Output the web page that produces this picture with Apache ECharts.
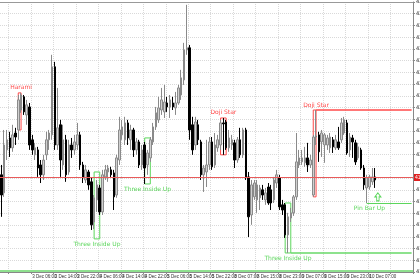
<!DOCTYPE html>
<html><head><meta charset="utf-8">
<script src="https://cdn.jsdelivr.net/npm/echarts@6/dist/echarts.min.js"></script>
<style>html,body{margin:0;padding:0;background:#fff}#c{width:420px;height:280px}</style>
</head><body><div id="c"></div>
<script>
const opens=[4191.4,4183.7,4202.0,4207.1,4202.9,4209.2,4210.5,4219.0,4224.6,4216.9,4220.3,4206.3,4199.9,4202.0,4195.6,4191.4,4199.9,4206.3,4208.4,4237.4,4204.1,4212.7,4195.6,4206.3,4192.6,4204.1,4202.0,4204.1,4208.4,4195.6,4189.2,4192.6,4188.4,4171.3,4180.7,4185.8,4175.6,4190.5,4192.6,4193.5,4192.2,4182.8,4197.7,4208.4,4206.3,4213.5,4206.3,4210.5,4202.0,4205.4,4195.6,4204.1,4195.6,4198.6,4205.4,4211.8,4214.8,4219.0,4218.2,4222.0,4220.3,4222.0,4219.9,4222.0,4225.4,4231.8,4244.6,4245.5,4212.7,4204.1,4212.7,4205.4,4191.4,4192.6,4195.6,4205.4,4195.6,4202.9,4204.1,4213.5,4213.9,4202.9,4204.1,4205.0,4197.7,4206.3,4199.9,4210.5,4190.5,4174.3,4182.0,4180.7,4181.6,4185.0,4180.7,4186.2,4185.0,4180.7,4187.9,4190.1,4178.6,4178.6,4165.8,4173.0,4175.2,4182.0,4195.6,4196.9,4196.5,4198.6,4195.6,4182.8,4207.5,4208.4,4205.4,4204.1,4204.1,4202.9,4206.3,4202.9,4205.4,4206.3,4209.2,4213.5,4202.0,4207.1,4205.0,4198.6,4202.0,4194.3,4185.8,4186.2,4188.4,4190.5];
const closes=[4182.8,4204.1,4206.3,4202.9,4208.4,4207.5,4223.3,4225.4,4218.2,4221.2,4204.1,4202.0,4202.9,4194.3,4191.4,4197.7,4206.3,4209.2,4237.4,4204.1,4211.4,4197.7,4206.3,4191.4,4204.1,4202.0,4205.4,4208.4,4195.6,4190.1,4193.5,4187.1,4170.1,4181.6,4187.1,4175.6,4191.4,4193.5,4194.3,4191.4,4182.0,4198.6,4210.5,4211.8,4213.5,4207.1,4210.5,4202.0,4205.4,4195.6,4202.0,4194.3,4200.7,4206.3,4211.8,4217.8,4219.9,4223.3,4222.4,4220.3,4223.3,4220.3,4222.0,4228.4,4232.7,4244.6,4245.5,4210.5,4202.0,4213.9,4206.3,4191.4,4194.3,4195.6,4205.4,4194.8,4204.1,4206.3,4213.5,4213.1,4202.9,4207.1,4206.3,4197.7,4206.3,4199.9,4210.5,4190.5,4173.5,4187.1,4187.9,4187.1,4185.8,4182.8,4183.7,4179.4,4179.4,4189.2,4191.4,4177.7,4176.4,4165.8,4173.5,4175.2,4182.0,4196.9,4198.6,4198.6,4198.6,4195.6,4197.7,4207.5,4207.9,4201.2,4209.2,4208.4,4207.1,4207.5,4203.3,4206.3,4202.9,4213.5,4214.8,4200.7,4207.5,4205.4,4196.9,4203.3,4194.3,4187.1,4190.1,4190.5,4190.5,4189.2];
const lows=[4173.5,4182.0,4197.7,4199.0,4201.2,4204.1,4206.3,4217.8,4216.9,4212.7,4202.0,4199.9,4197.7,4190.5,4187.9,4189.2,4197.7,4202.0,4206.3,4202.0,4202.0,4190.5,4193.5,4188.4,4191.4,4198.6,4199.9,4202.0,4193.5,4187.9,4187.9,4185.0,4167.9,4168.3,4175.6,4174.3,4174.3,4189.2,4188.4,4190.1,4176.4,4181.6,4195.6,4206.3,4204.1,4204.1,4202.0,4199.0,4199.9,4194.3,4193.5,4187.5,4191.4,4196.9,4204.1,4210.5,4213.5,4216.9,4215.6,4218.2,4215.6,4219.0,4216.9,4221.2,4223.3,4229.7,4242.5,4206.3,4199.9,4202.0,4204.1,4189.2,4184.1,4186.2,4193.5,4193.5,4194.3,4201.2,4202.0,4199.9,4202.0,4201.2,4202.0,4194.3,4196.5,4198.6,4198.6,4189.2,4164.9,4170.1,4180.7,4175.2,4176.4,4180.7,4178.6,4178.6,4176.4,4179.4,4185.8,4176.4,4174.3,4164.5,4158.1,4171.3,4173.9,4180.7,4194.3,4195.6,4194.8,4192.6,4194.3,4182.0,4204.1,4196.9,4199.0,4196.5,4202.0,4200.7,4200.7,4202.0,4202.0,4205.0,4208.4,4199.9,4199.0,4198.6,4195.6,4197.7,4193.5,4185.0,4179.4,4185.0,4187.1,4185.8];
const highs=[4195.6,4210.5,4210.5,4209.7,4212.7,4211.4,4225.4,4226.3,4225.4,4223.3,4222.0,4208.4,4205.0,4203.3,4197.7,4199.9,4209.7,4210.5,4242.5,4239.5,4228.4,4214.8,4212.7,4208.4,4206.3,4207.1,4208.4,4213.5,4209.7,4196.9,4195.6,4193.5,4190.1,4182.8,4189.2,4187.1,4193.5,4195.6,4195.6,4194.8,4193.5,4199.9,4216.1,4214.8,4216.1,4214.8,4212.7,4211.4,4207.1,4206.3,4204.1,4205.4,4202.0,4207.5,4213.5,4220.3,4224.6,4228.4,4229.7,4224.6,4225.4,4224.6,4226.7,4229.7,4236.1,4247.6,4263.8,4246.7,4216.1,4216.1,4214.8,4206.3,4195.6,4206.3,4207.5,4207.5,4209.2,4208.4,4214.8,4215.6,4214.8,4210.5,4208.4,4206.3,4207.5,4211.4,4211.4,4211.4,4192.6,4189.2,4189.2,4189.2,4187.1,4187.1,4185.8,4187.9,4187.1,4190.5,4193.5,4191.4,4180.7,4179.4,4175.2,4177.3,4182.8,4209.2,4202.0,4202.0,4203.3,4205.0,4199.9,4208.4,4219.0,4209.7,4210.5,4209.2,4208.4,4209.2,4207.5,4208.4,4211.8,4215.6,4216.1,4214.8,4209.2,4208.4,4206.3,4205.0,4202.9,4195.6,4191.4,4191.4,4194.3,4194.3];
const tickLabels=['2 Dec 22:00','3 Dec 06:00','3 Dec 14:00','3 Dec 22:00','4 Dec 06:00','4 Dec 14:00','4 Dec 22:00','5 Dec 06:00','5 Dec 14:00','5 Dec 22:00','8 Dec 07:00','8 Dec 15:00','8 Dec 23:00','9 Dec 07:00','9 Dec 15:00','9 Dec 23:00','10 Dec 07:00'];
const currentPrice=4190.25;
// pattern annotations: [name, fromIndex, toIndex, top, bottom, colour, label side]
const patterns=[
 ['Harami',6,7,4226.3,4210.5,'red','above'],
 ['Three Inside Up',33,35,4192.6,4164.1,'green','below'],
 ['Three Inside Up',51,53,4207.1,4187.5,'green','below'],
 ['Doji Star',78,80,4215.6,4199.9,'red','above'],
 ['Three Inside Up',101,103,4179.4,4158.1,'green','below'],
 ['Doji Star',111,112,4219.0,4182.0,'red','above']
];
const pinBar={name:'Pin Bar Up',index:130,level:4179.4,labelIndex:131,arrowIndex:134,arrowLevel:4182.0};
const extLines=[[103,4158.1,'green'],[112,4219.0,'red']];
const bottomLevel=4150.5;

const N=147;
const cats=[];for(let i=0;i<N;i++)cats.push(String(i));
const candles=opens.map((o,i)=>[o,closes[i],lows[i],highs[i]]);
const RED='#ff4a4a',GREEN='#5cd65c';
const col=c=>c==='red'?RED:GREEN;
const isTick=i=>i>=3&&(i-3)%8===0;
const lbl=i=>tickLabels[(i-3)/8]||'';

const areas=patterns.map(p=>[{coord:[p[1],p[3]],itemStyle:{color:'rgba(0,0,0,0)',borderColor:col(p[5]),borderWidth:1}},{coord:[p[2],p[4]]}]);
const points=patterns.map(p=>({coord:[(p[1]+p[2])/2,p[6]==='above'?p[3]:p[4]],value:p[0],
  label:{show:true,formatter:p[0],color:col(p[5]),fontSize:6,fontFamily:'DejaVu Sans',position:p[6]==='above'?'top':'bottom',distance:2}}));
points.push({coord:[pinBar.labelIndex,pinBar.level],label:{show:true,formatter:pinBar.name,color:GREEN,fontSize:6,fontFamily:'DejaVu Sans',position:'bottom',distance:2}});
const lines=extLines.map(l=>[{coord:[l[0],l[1]],lineStyle:{color:col(l[2]),type:'solid',width:l[2]==='green'?2:1.5,opacity:l[2]==='green'?0.7:1}},{coord:[N-1,l[1]]}]);
lines.push([{coord:[pinBar.index,pinBar.level],lineStyle:{color:GREEN,type:'solid',width:1}},{coord:[N-1,pinBar.level]}]);
lines.push({yAxis:bottomLevel,lineStyle:{color:'#8fe08f',type:'solid',width:2}});
lines.push({yAxis:currentPrice,lineStyle:{color:'#e85a5a',type:'solid',width:1},label:{show:true,position:'end',formatter:'4190.30',backgroundColor:'#e02020',color:'#fff',fontSize:5,padding:[1,1],distance:1}});

const chart=echarts.init(document.getElementById('c'),null,{renderer:'canvas'});
chart.setOption({
 animation:false,backgroundColor:'#fff',
 grid:{left:0,right:7,top:2,bottom:8,containLabel:false,outerBoundsMode:'none'},
 xAxis:[{type:'category',data:cats,boundaryGap:true,
   axisLine:{show:true,lineStyle:{color:'#888'}},
   axisTick:{show:true,interval:(i)=>isTick(i),length:2,lineStyle:{color:'#888'}},
   axisLabel:{show:true,interval:(i)=>isTick(i),formatter:(v,i)=>lbl(i),align:'left',fontSize:4.5,margin:2,color:'#333',fontFamily:'Liberation Sans'},
   splitLine:{show:true,interval:(i)=>isTick(i),lineStyle:{color:'#d9d9d9',type:'dotted'}}},
  {type:'category',data:cats,position:'top',axisLine:{show:true,lineStyle:{color:'#999'}},axisTick:{show:false},axisLabel:{show:false},splitLine:{show:false}}],
 yAxis:{type:'value',position:'right',min:4150,max:4265,interval:5,
   axisLine:{show:true,lineStyle:{color:'#888'}},axisTick:{show:true,length:2,lineStyle:{color:'#888'}},
   axisLabel:{fontSize:5,margin:3,color:'#222',formatter:v=>v.toFixed(2),fontFamily:'DejaVu Sans'},
   splitLine:{show:true,lineStyle:{color:'#d9d9d9',type:'dotted'}}},
 series:[{type:'candlestick',data:candles,barWidth:2,
   itemStyle:{color:'#d0d0d0',color0:'#000',borderColor:'#8a8a8a',borderColor0:'#000',borderWidth:1},
   markArea:{silent:true,data:areas},
   markPoint:{silent:true,symbol:'circle',symbolSize:0.1,itemStyle:{color:'rgba(0,0,0,0)'},data:points.concat([{coord:[pinBar.arrowIndex,pinBar.arrowLevel],symbol:'path://M5,0 L10,5 L7,5 L7,10 L3,10 L3,5 L0,5 Z',symbolSize:[6,8],itemStyle:{color:'#fff',borderColor:GREEN,borderWidth:1},label:{show:false}}])},
   markLine:{silent:true,symbol:['none','none'],label:{show:false},data:lines}
 }]
});
</script></body></html>
